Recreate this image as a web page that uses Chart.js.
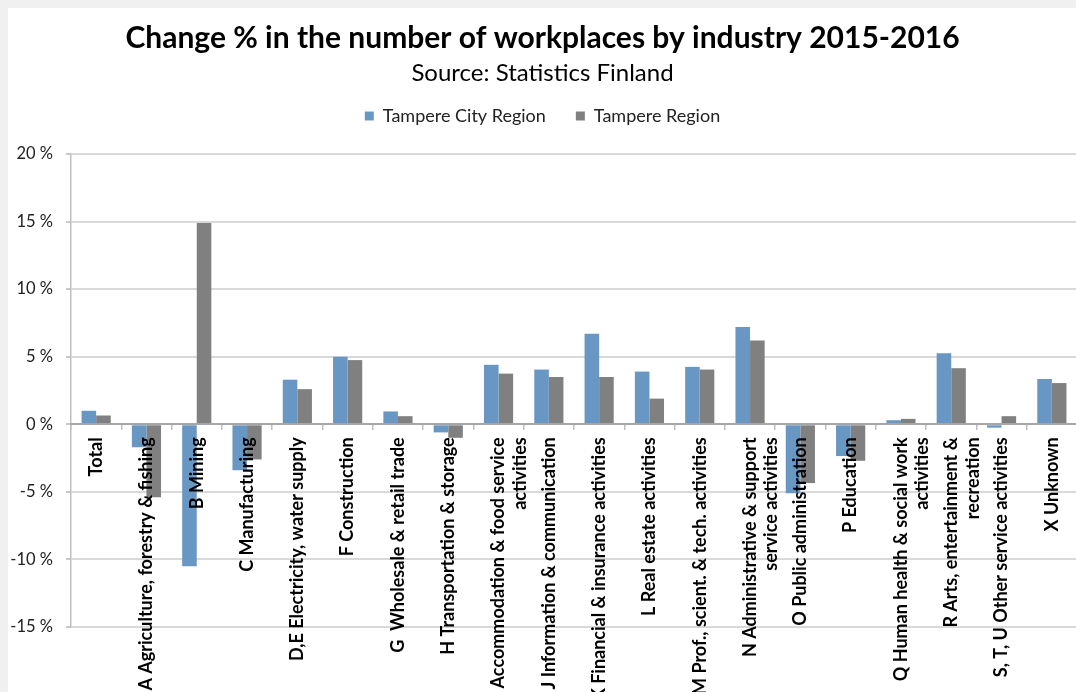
<!DOCTYPE html>
<html><head><meta charset="utf-8">
<script src="https://cdn.jsdelivr.net/npm/chart.js@4.4.1/dist/chart.umd.min.js"></script>
<style>
html,body{margin:0;padding:0;background:#f0f0f0;overflow:hidden;width:1076px;height:692px;}
#wrap{position:absolute;left:8px;top:8px;width:1080px;height:684px;background:#fff;}
</style></head><body>
<div id="wrap"><canvas id="c" width="1080" height="684"></canvas></div>
<script>
const categories = [
  "Total",
  "A Agriculture, forestry & fishing",
  "B Mining",
  "C Manufacturing",
  "D,E Electricity, water supply",
  "F Construction",
  "G  Wholesale & retail trade",
  "H Transportation & storage",
  ["I Accommodation & food service", "activities"],
  "J Information & communication",
  "K Financial & insurance activities",
  "L Real estate activities",
  "M Prof., scient. & tech. activities",
  ["N Administrative & support", "service activities"],
  "O Public administration",
  "P Education",
  ["Q Human health & social work", "activities"],
  ["R Arts, entertainment &", "recreation"],
  "S, T, U Other service activities",
  "X Unknown"
];
const seriesNames = ["Tampere City Region", "Tampere Region"];
const cityRegion = [1.0, -1.7, -10.5, -3.4, 3.3, 5.0, 0.95, -0.6, 4.4, 4.05, 6.7, 3.9, 4.25, 7.2, -5.1, -2.35, 0.3, 5.25, -0.25, 3.35];
const tampereRegion = [0.65, -5.4, 14.9, -2.6, 2.6, 4.75, 0.6, -1.0, 3.75, 3.5, 3.5, 1.9, 4.05, 6.2, -4.35, -2.7, 0.4, 4.15, 0.6, 3.05];
const yMin = -15, yMax = 20, yStep = 5;
const titleText = "Change % in the number of workplaces by industry 2015-2016";
const subtitleText = "Source: Statistics Finland";

const FONT = "Lato";

const legendGap = {
  id: 'legendGap',
  beforeLayout(chart) {
    const lg = chart.legend;
    if (lg && !lg._gapPatched) {
      const f = lg.fit;
      lg.fit = function () { f.call(this); this.height += 19; };
      lg._gapPatched = true;
    }
  }
};

new Chart(document.getElementById('c'), {
  type: 'bar',
  data: {
    labels: categories,
    datasets: [
      { label: seriesNames[0], data: cityRegion, backgroundColor: '#6897c3' },
      { label: seriesNames[1], data: tampereRegion, backgroundColor: '#808080' }
    ]
  },
  options: {
    responsive: false,
    animation: false,
    devicePixelRatio: 1,
    layout: { padding: { top: 0, left: 0, right: 11, bottom: 65 } },
    datasets: { bar: { categoryPercentage: 0.58, barPercentage: 1.0 } },
    plugins: {
      title: {
        display: true, text: titleText, color: '#000',
        font: { family: FONT, size: 30, weight: 'bold', lineHeight: 1 },
        padding: { top: 15, bottom: 0 }
      },
      subtitle: {
        display: true, text: subtitleText, color: '#000',
        font: { family: FONT, size: 24, lineHeight: 1 },
        padding: { top: 8, bottom: -8 }
      },
      legend: {
        display: true, position: 'top',
        labels: {
          boxWidth: 9, boxHeight: 9, padding: 30, color: '#222',
          font: { family: FONT, size: 18 }
        }
      },
      tooltip: { enabled: false }
    },
    scales: {
      y: {
        min: yMin, max: yMax,
        afterFit(s) { s.width = 63; },
        ticks: {
          stepSize: yStep, padding: 13, color: '#222',
          font: { family: FONT, size: 16.5 },
          callback: v => v + ' %'
        },
        grid: { color: '#d9d9d9', lineWidth: 2, tickLength: 5, tickColor: '#c8c8c8' },
        border: { color: '#bfbfbf', width: 1.5 }
      },
      x: {
        position: { y: 0 },
        grid: { drawOnChartArea: false, drawTicks: true, tickLength: 5, color: '#bfbfbf', lineWidth: 1.5 },
        border: { color: '#a6a6a6', width: 2, z: 1 },
        ticks: {
          z: 1,
          autoSkip: false, minRotation: 90, maxRotation: 90, padding: 8, color: '#000',
          font: { family: FONT, size: 18, weight: 'bold' }
        }
      }
    }
  },
  plugins: [legendGap]
});
</script>
</body></html>
